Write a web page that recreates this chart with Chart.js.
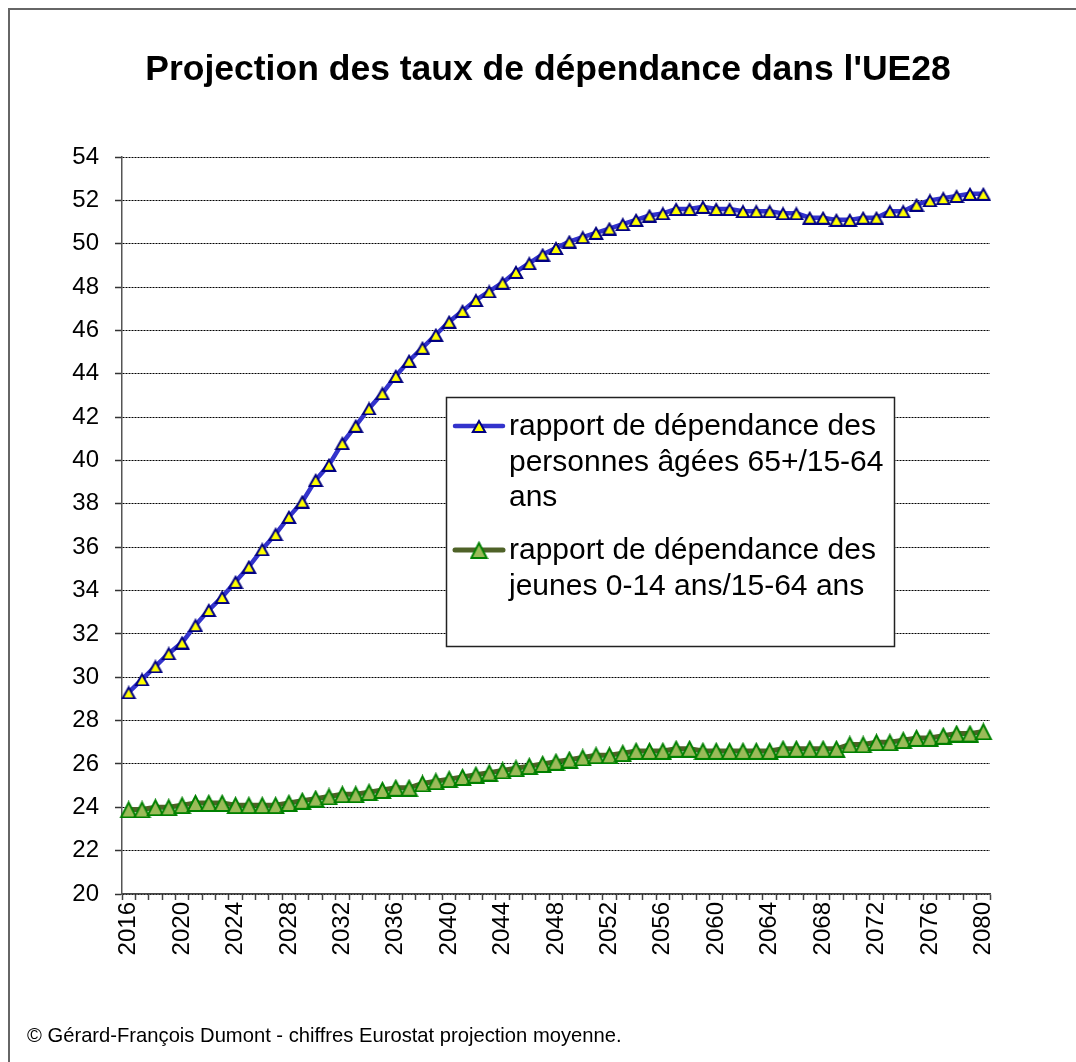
<!DOCTYPE html>
<html lang="fr">
<head>
<meta charset="utf-8">
<title>Projection des taux de dépendance dans l'UE28</title>
<script src="https://cdn.jsdelivr.net/npm/chart.js@4.4.1/dist/chart.umd.min.js"></script>
<style>
  html, body { margin: 0; padding: 0; background: #fff; }
  #wrap { position: relative; width: 1076px; height: 1062px; overflow: hidden; }
  #frame { position: absolute; left: 8px; top: 8px; width: 1100px; height: 1100px;
           border-top: 2px solid #666; border-left: 2px solid #666; }
  #source { position: absolute; left: 27px; top: 1024px; color: #000; white-space: nowrap;
            font: 20.2px/22px 'Liberation Sans', Arial, sans-serif; }
  canvas { position: absolute; left: 0; top: 0; }
</style>
</head>
<body>
<div id="wrap">
  <div id="frame"></div>
  <canvas id="chart" width="1076" height="1062"></canvas>
  <div id="source">© Gérard-François Dumont - chiffres Eurostat projection moyenne.</div>
</div>
<script>
'use strict';

const FONT = "'Liberation Sans', Arial, Helvetica, sans-serif";

const years = [
  '2016', '2017', '2018', '2019', '2020', '2021', '2022', '2023', '2024', '2025',
  '2026', '2027', '2028', '2029', '2030', '2031', '2032', '2033', '2034', '2035',
  '2036', '2037', '2038', '2039', '2040', '2041', '2042', '2043', '2044', '2045',
  '2046', '2047', '2048', '2049', '2050', '2051', '2052', '2053', '2054', '2055',
  '2056', '2057', '2058', '2059', '2060', '2061', '2062', '2063', '2064', '2065',
  '2066', '2067', '2068', '2069', '2070', '2071', '2072', '2073', '2074', '2075',
  '2076', '2077', '2078', '2079', '2080'
];

// labels shown under the axis (every 4 years)
const tickYears = [
  '2016', '2020', '2024', '2028', '2032', '2036', '2040', '2044', '2048',
  '2052', '2056', '2060', '2064', '2068', '2072', '2076', '2080'
];

// rapport de dépendance des personnes âgées 65+/15-64 ans
const oldAge = [
  29.3, 29.9, 30.5, 31.1, 31.6, 32.4, 33.1, 33.7, 34.4, 35.1,
  35.9, 36.6, 37.4, 38.1, 39.1, 39.8, 40.8, 41.6, 42.4, 43.1,
  43.9, 44.6, 45.2, 45.8, 46.4, 46.9, 47.4, 47.8, 48.2, 48.7,
  49.1, 49.5, 49.8, 50.1, 50.3, 50.5, 50.7, 50.9, 51.1, 51.3,
  51.4, 51.6, 51.6, 51.7, 51.6, 51.6, 51.5, 51.5, 51.5, 51.4,
  51.4, 51.2, 51.2, 51.1, 51.1, 51.2, 51.2, 51.5, 51.5, 51.8,
  52.0, 52.1, 52.2, 52.3, 52.3
];

// rapport de dépendance des jeunes 0-14 ans/15-64 ans
const young = [
  23.9, 23.9, 24.0, 24.0, 24.1, 24.2, 24.2, 24.2, 24.1, 24.1,
  24.1, 24.1, 24.2, 24.3, 24.4, 24.5, 24.6, 24.6, 24.7, 24.8,
  24.9, 24.9, 25.1, 25.2, 25.3, 25.4, 25.5, 25.6, 25.7, 25.8,
  25.9, 26.0, 26.1, 26.2, 26.3, 26.4, 26.4, 26.5, 26.6, 26.6,
  26.6, 26.7, 26.7, 26.6, 26.6, 26.6, 26.6, 26.6, 26.6, 26.7,
  26.7, 26.7, 26.7, 26.7, 26.9, 26.9, 27.0, 27.0, 27.1, 27.2,
  27.2, 27.3, 27.4, 27.4, 27.5
];

const seriesLabels = [
  'rapport de dépendance des personnes âgées 65+/15-64 ans',
  'rapport de dépendance des jeunes 0-14 ans/15-64 ans'
];

// Excel-like triangle marker, centred on its bounding box
function triangleMarker(w, h, fill, stroke, lw) {
  const c = document.createElement('canvas');
  c.width = w;
  c.height = h;
  const ctx = c.getContext('2d');
  ctx.beginPath();
  ctx.moveTo(w / 2, lw);
  ctx.lineTo(w - lw * 0.9, h - lw / 2);
  ctx.lineTo(lw * 0.9, h - lw / 2);
  ctx.closePath();
  ctx.fillStyle = fill;
  ctx.fill();
  ctx.lineWidth = lw;
  ctx.strokeStyle = stroke;
  ctx.lineJoin = 'miter';
  ctx.stroke();
  return c;
}

function wrapText(ctx, text, maxWidth) {
  const words = text.split(' ');
  const lines = [];
  let line = '';
  words.forEach(w => {
    const test = line ? line + ' ' + w : w;
    if (ctx.measureText(test).width > maxWidth && line) {
      lines.push(line);
      line = w;
    } else {
      line = test;
    }
  });
  if (line) lines.push(line);
  return lines;
}

const boxLegend = {
  id: 'boxLegend',
  afterDraw(chart) {
    const ctx = chart.ctx;
    ctx.save();
    ctx.fillStyle = '#fff';
    ctx.fillRect(446, 397, 449, 250);
    ctx.strokeStyle = '#222';
    ctx.lineWidth = 1.5;
    ctx.strokeRect(446.5, 397.5, 448, 249);

    ctx.font = '30px ' + FONT;
    ctx.textBaseline = 'alphabetic';
    let base = 435;
    chart.data.datasets.forEach(ds => {
      const lines = wrapText(ctx, ds.label, 386);
      const symY = base - 9;
      ctx.strokeStyle = ds.borderColor;
      ctx.lineWidth = ds.borderWidth;
      ctx.lineCap = 'round';
      ctx.beginPath();
      ctx.moveTo(455, symY);
      ctx.lineTo(503, symY);
      ctx.stroke();
      const img = ds.pointStyle;
      ctx.drawImage(img, 479 - img.width / 2, symY - img.height / 2);
      ctx.fillStyle = '#000';
      lines.forEach((ln, i) => ctx.fillText(ln, 509, base + i * 35.5));
      base += lines.length * 35.5 + 17.5;
    });
    ctx.restore();
  }
};

const oldMarker = triangleMarker(16, 14, '#FFFF00', '#000080', 2);
const youngMarker = triangleMarker(19, 18, '#9BBB59', '#008000', 2);

new Chart(document.getElementById('chart'), {
  type: 'line',
  data: {
    labels: years,
    datasets: [
      {
        label: seriesLabels[0],
        data: oldAge,
        borderColor: '#3333CC',
        borderWidth: 4.5,
        pointStyle: oldMarker,
        tension: 0
      },
      {
        label: seriesLabels[1],
        data: young,
        borderColor: '#4F6228',
        borderWidth: 5,
        pointStyle: youngMarker,
        tension: 0
      }
    ]
  },
  options: {
    responsive: false,
    animation: false,
    layout: { padding: { left: 20, right: 0, top: 0, bottom: 0 } },
    plugins: {
      legend: { display: false },
      tooltip: { enabled: false },
      title: {
        display: true,
        text: "Projection des taux de dépendance dans l'UE28",
        color: '#000',
        font: { family: FONT, size: 35.5, weight: 'bold', lineHeight: '40px' },
        padding: { top: 50, bottom: 67 }
      }
    },
    scales: {
      x: {
        type: 'category',
        offset: true,
        grid: {
          display: true,
          drawOnChartArea: false,
          drawTicks: true,
          offset: true,
          tickLength: 6,
          tickColor: '#444',
          tickWidth: 1.5
        },
        border: { display: true, color: '#444', width: 1.5 },
        ticks: {
          autoSkip: false,
          minRotation: 90,
          maxRotation: 90,
          padding: 2,
          color: '#000',
          font: { family: FONT, size: 24 },
          callback(v, i) {
            const y = years[i];
            return tickYears.includes(y) ? y : '';
          }
        },
        afterFit(s) { s.height = 168; }
      },
      y: {
        min: 20,
        max: 54,
        ticks: {
          stepSize: 2,
          padding: 16,
          color: '#000',
          font: { family: FONT, size: 24 }
        },
        grid: {
          color: '#000',
          lineWidth: 1,
          drawTicks: true,
          tickLength: 7,
          tickColor: '#333',
          tickWidth: 1.5,
          tickBorderDash: []
        },
        border: { display: true, color: '#555', width: 1.5, dash: [2, 1] },
        afterFit(s) { s.width = 102; }
      },
      // empty right-hand space so the plot ends where the original does
      yRight: {
        position: 'right',
        display: true,
        grid: { display: false, drawTicks: false },
        border: { display: false },
        ticks: { display: false },
        afterFit(s) { s.width = 86; }
      }
    }
  },
  plugins: [boxLegend]
});
</script>
</body>
</html>
